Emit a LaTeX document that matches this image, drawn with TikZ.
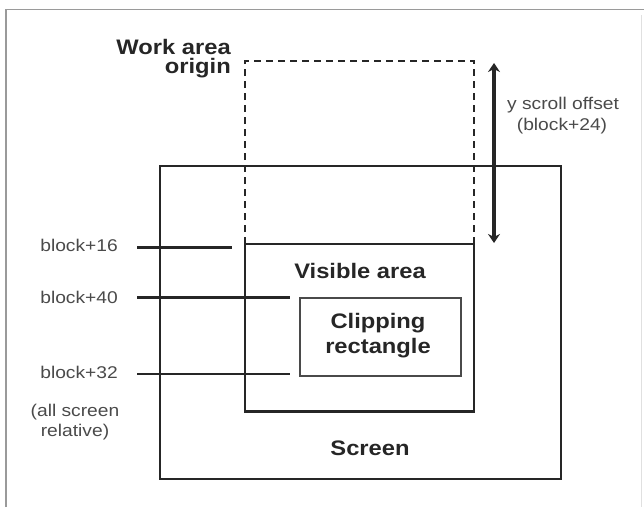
\documentclass[tikz,border=0pt]{standalone}
\usepackage{fontspec}
\setmainfont{Liberation Sans}
\newfontfamily\labfont{Liberation Sans}[FakeStretch=1.13]
\usetikzlibrary{arrows.meta}
\definecolor{ink}{HTML}{262626}
\definecolor{grayink}{HTML}{4A4A4A}
\definecolor{framecol}{HTML}{9A9A9A}
\tikzset{
  px/.style={x=1pt,y=-1pt},
  boxline/.style={draw=ink,line width=2.6pt},
  thinbox/.style={draw=grayink,line width=1.1pt},
  dashline/.style={draw=ink,line width=2.5pt,dash pattern=on 7pt off 5pt},
  leader/.style={draw=ink,line width=2.3pt},
  biglab/.style={font=\labfont\bfseries\fontsize{21}{23}\selectfont,text=ink,inner sep=0pt,align=center},
  smalllab/.style={font=\labfont\fontsize{17}{20}\selectfont,text=grayink,inner sep=0pt,align=center},
}
\begin{document}
\begin{tikzpicture}[px]
\useasboundingbox (0,0) rectangle (644,507);
% page frame
\draw[framecol,line width=1.5pt] (6,507) -- (6,9.5) -- (644,9.5);
\draw[black!12,line width=1pt] (641,15) -- (641,507);
% screen
\draw[boxline] (160,166) rectangle (561,479);
% work area (dashed)
\coordinate (wtl) at (245,61);
\coordinate (wtr) at (474,61);
\coordinate (wbl) at (245,244);
\coordinate (wbr) at (474,244);
\draw[dashline] (wbl) -- (wtl) -- (wtr) -- (wbr);
% visible area
\draw[boxline] (245,244) rectangle (474,411.5);
% clipping rectangle
\draw[thinbox] (300,298) rectangle (461,376);
% scroll arrow
\coordinate (at) at (494,63);
\coordinate (ab) at (494,243);
\draw[draw=ink,line width=3.5pt,{Stealth[length=9pt,width=12pt]}-{Stealth[length=9pt,width=12pt]}] (at) -- (ab);
% labels
\node[biglab,anchor=east] (work) at (231,46.5) {Work area};
\node[biglab,anchor=east] (orig) at (231,68) {origin};
\node[smalllab] (ys) at (563,105) {y scroll offset};
\node[smalllab] (yb) at (562,126) {(block+24)};
\node[biglab] (vis) at (360,271) {Visible area};
\node[biglab] (clip1) at (378,323) {Clipping};
\node[biglab] (clip2) at (378,348) {rectangle};
\node[biglab] (scr) at (370,448) {Screen};
\node[smalllab,anchor=east] (b16) at (118,245) {block+16};
\node[smalllab,anchor=east] (b40) at (118,297) {block+40};
\node[smalllab,anchor=east] (b32) at (118,372) {block+32};
\node[smalllab] (rel1) at (75,412) {(all screen};
\node[smalllab] (rel2) at (75,432) {relative)};
% leader lines
\coordinate (l16a) at (137,247.5); \coordinate (l16b) at (232,247.5);
\coordinate (l40a) at (137,297.5); \coordinate (l40b) at (290,297.5);
\coordinate (l32a) at (137,374); \coordinate (l32b) at (290,374);
\draw[leader] (l16a) -- (l16b);
\draw[leader] (l40a) -- (l40b);
\draw[leader] (l32a) -- (l32b);
\end{tikzpicture}
\end{document}
